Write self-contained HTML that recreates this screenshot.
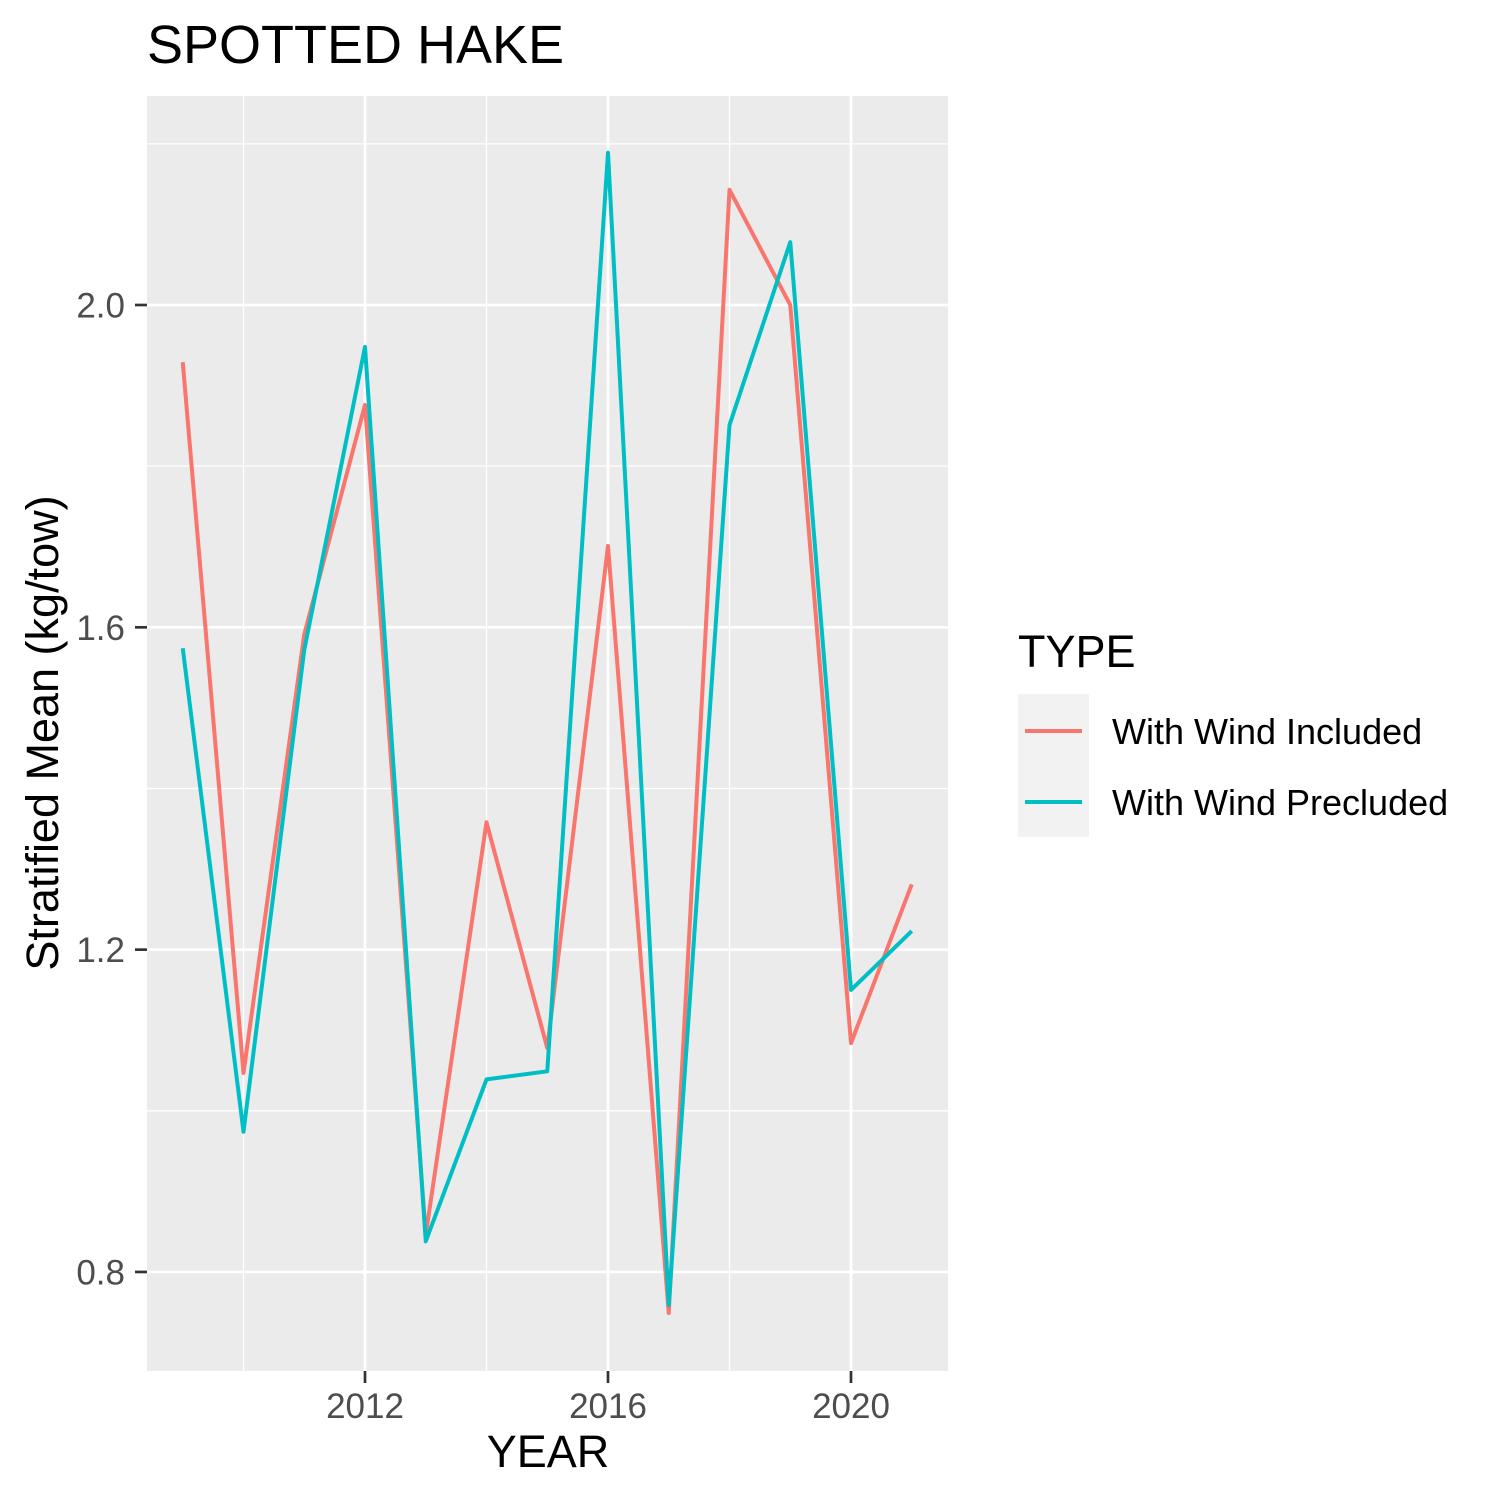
<!DOCTYPE html>
<html><head><meta charset="utf-8"><style>
html,body{margin:0;padding:0;background:#fff;}
svg{display:block;font-family:"Liberation Sans",Arial,sans-serif;}
</style></head><body>
<svg id="chart" width="1500" height="1500" viewBox="0 0 1500 1500">
<rect width="1500" height="1500" fill="#fff"/>
<text x="147" y="63" font-size="54" fill="#000">SPOTTED HAKE</text>
<rect x="147" y="96" width="801" height="1275" fill="#ebebeb"/>
<g id="grid"></g>
<g id="series"></g>
<g id="axes"></g>
<text x="548" y="1467" font-size="45" text-anchor="middle" fill="#000">YEAR</text>
<text transform="translate(58,733) rotate(-90)" font-size="45" text-anchor="middle" fill="#000">Stratified Mean (kg/tow)</text>
<g>
<text x="1018" y="667" font-size="45" fill="#000">TYPE</text>
<rect x="1018" y="694" width="71" height="143" fill="#f2f2f2"/>
<g>
<line x1="1025" x2="1082" y1="731" y2="731" stroke="#F8766D" stroke-width="4"/>
<text x="1112" y="744" font-size="36" fill="#000">With Wind Included</text></g>
<g>
<line x1="1025" x2="1082" y1="802" y2="802" stroke="#00BFC4" stroke-width="4"/>
<text x="1112" y="815" font-size="36" fill="#000">With Wind Precluded</text></g>
</g>
</svg>
<script>
const years=[2009,2010,2011,2012,2013,2014,2015,2016,2017,2018,2019,2020,2021];
const included=[1.929,1.047,1.591,1.876,0.846,1.358,1.078,1.701,0.749,2.143,2.0,1.084,1.281];
const precluded=[1.574,0.974,1.572,1.948,0.838,1.039,1.049,2.189,0.759,1.851,2.078,1.150,1.223];
const yTicks=[0.8,1.2,1.6,2.0];
const yMinor=[1.0,1.4,1.8,2.2];
const xTicks=[2012,2016,2020];
const xMinor=[2010,2014,2018];
const NS="http://www.w3.org/2000/svg";
function xs(v){return 365+(v-2012)*60.75;}
function ys(v){return 305+(2.0-v)*805.8;}
function mk(tag,attrs,parent){const e=document.createElementNS(NS,tag);for(const k in attrs)e.setAttribute(k,attrs[k]);parent.appendChild(e);return e;}
const grid=document.getElementById('grid'),axes=document.getElementById('axes'),ser=document.getElementById('series');
yMinor.forEach(v=>{const l=mk('line',{x1:147,x2:948,y1:ys(v),y2:ys(v),stroke:'#fff','stroke-width':1.3},grid);

});
xMinor.forEach(v=>{const l=mk('line',{x1:xs(v),x2:xs(v),y1:96,y2:1371,stroke:'#fff','stroke-width':1.3},grid);

});
yTicks.forEach(v=>{const l=mk('line',{x1:147,x2:948,y1:ys(v),y2:ys(v),stroke:'#fff','stroke-width':2.7},grid);


const t=mk('line',{x1:135,x2:147,y1:ys(v),y2:ys(v),stroke:'#333','stroke-width':2.7},axes);


const tx=mk('text',{x:125,y:ys(v)+12.5,'font-size':35,'text-anchor':'end',fill:'#4d4d4d'},axes);tx.textContent=v.toFixed(1);

});
xTicks.forEach(v=>{const l=mk('line',{x1:xs(v),x2:xs(v),y1:96,y2:1371,stroke:'#fff','stroke-width':2.7},grid);


const t=mk('line',{x1:xs(v),x2:xs(v),y1:1371,y2:1383,stroke:'#333','stroke-width':2.7},axes);


const tx=mk('text',{x:xs(v),y:1418,'font-size':35,'text-anchor':'middle',fill:'#4d4d4d'},axes);tx.textContent=v;

});
function draw(vals,color,name){const p=mk('polyline',{points:years.map((y,i)=>xs(y)+','+ys(vals[i])).join(' '),fill:'none',stroke:color,'stroke-width':4,'stroke-linejoin':'round'},ser);

}
draw(included,'#F8766D','line-wind-included');
draw(precluded,'#00BFC4','line-wind-precluded');
</script>
</body></html>
